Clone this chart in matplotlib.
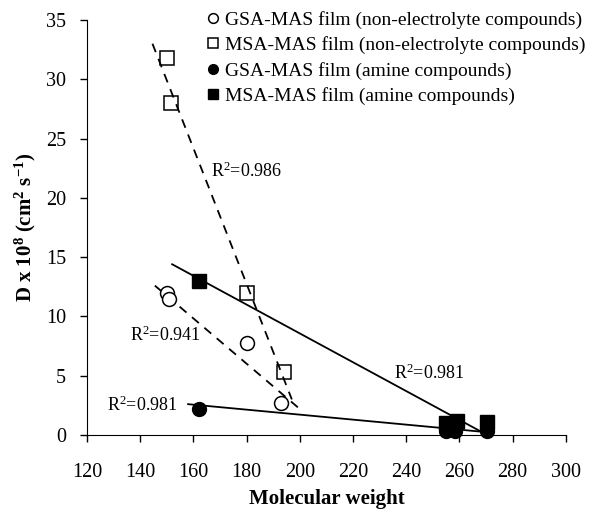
import numpy as np
import matplotlib
matplotlib.use("Agg")
import matplotlib.pyplot as plt

plt.rcParams['font.family'] = ['Liberation Serif', 'DejaVu Serif']
plt.rcParams['mathtext.fontset'] = 'custom'
plt.rcParams['mathtext.rm'] = 'Liberation Serif'
plt.rcParams['mathtext.it'] = 'Liberation Serif:italic'
plt.rcParams['mathtext.bf'] = 'Liberation Serif:bold'

# GSA-MAS film, non-electrolyte compounds (open circles)
gsa_ne_mw = [150, 151, 180, 193]
gsa_ne_d = [12.0, 11.5, 7.8, 2.7]
# MSA-MAS film, non-electrolyte compounds (open squares)
msa_ne_mw = [150, 151.5, 180, 194]
msa_ne_d = [31.8, 28.0, 12.0, 5.3]
# GSA-MAS film, amine compounds (filled circles)
gsa_am_mw = [162, 255, 258.5, 270.5]
gsa_am_d = [2.2, 0.3, 0.3, 0.3]
# MSA-MAS film, amine compounds (filled squares)
msa_am_mw = [162, 255, 259, 270.5]
msa_am_d = [13.0, 1.0, 1.2, 1.1]

# fitted trend lines (end points)
fit_gsa_ne_x = [145.5, 201]
fit_gsa_ne_y = [12.6, 2.0]
fit_msa_ne_x = [144.6, 197]
fit_msa_ne_y = [33.0, 3.0]
fit_gsa_am_x = [158, 272]
fit_gsa_am_y = [2.6, 0.2]
fit_msa_am_x = [152, 268]
fit_msa_am_y = [14.4, 0.3]

r2_labels = ["R$^{2}$=0.986", "R$^{2}$=0.941", "R$^{2}$=0.981", "R$^{2}$=0.981"]
r2_pos = [(166.5, 22.2), (136, 8.4), (127.5, 2.5), (235.5, 5.2)]

fig = plt.figure(figsize=(5.9, 5.09), dpi=100)
ax = fig.add_axes([0.1475, 0.1454, 0.8115, 0.8153])

dash = (0, (5, 4))
ax.plot(fit_msa_ne_x, fit_msa_ne_y, color='black', lw=1.3, linestyle=dash)
ax.plot(fit_gsa_ne_x, fit_gsa_ne_y, color='black', lw=1.3, linestyle=dash)
ax.plot(fit_msa_am_x, fit_msa_am_y, color='black', lw=1.3)
ax.plot(fit_gsa_am_x, fit_gsa_am_y, color='black', lw=1.3)

ax.plot(gsa_ne_mw, gsa_ne_d, 'o', ms=10, mfc='white', mec='black', mew=1.1,
        label='GSA-MAS film (non-electrolyte compounds)', clip_on=False)
ax.plot(msa_ne_mw, msa_ne_d, 's', ms=9.5, mfc='none', mec='black', mew=1.1,
        label='MSA-MAS film (non-electrolyte compounds)', clip_on=False)
ax.plot(gsa_am_mw, gsa_am_d, 'o', ms=10, mfc='black', mec='black',
        label='GSA-MAS film (amine compounds)', clip_on=False)
ax.plot(msa_am_mw, msa_am_d, 's', ms=10, mfc='black', mec='black',
        label='MSA-MAS film (amine compounds)', clip_on=False)

for txt, (x, y) in zip(r2_labels, r2_pos):
    ax.text(x, y, txt, fontsize=13, va='center', ha='left')

ax.set_xlim(120, 300)
ax.set_ylim(0, 35)
ax.set_xticks(np.arange(120, 301, 20))
ax.set_yticks(np.arange(0, 36, 5))
ax.spines['top'].set_visible(False)
ax.spines['right'].set_visible(False)
ax.tick_params(direction='out', length=5, width=1, labelsize=14.5)
ax.tick_params(axis='x', pad=15)
ax.tick_params(axis='y', pad=10)

ax.set_xlabel('Molecular weight', fontsize=15, fontweight='bold', labelpad=5)
ax.set_ylabel(r'D x 10$^{\mathbf{8}}$ (cm$^{\mathbf{2}}$ s$^{\mathbf{-1}}$)',
              fontsize=15, fontweight='bold', labelpad=6)

leg = ax.legend(loc='upper right', bbox_to_anchor=(1.062, 1.045), frameon=False,
                fontsize=14, markerscale=0.7, handlelength=0.6,
                handletextpad=0.35, labelspacing=0.38, borderpad=0)

fig.savefig('out.png', dpi=100)
